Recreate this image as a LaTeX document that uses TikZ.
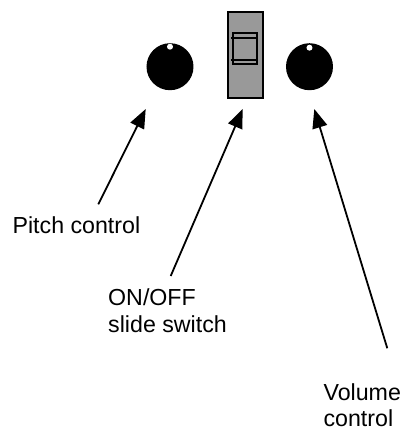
\documentclass[tikz,border=0pt]{standalone}
\usepackage{fontspec}
\setmainfont{Liberation Sans}
\usetikzlibrary{arrows.meta}
\definecolor{switchgrey}{RGB}{153,153,153}

\begin{document}
\begin{tikzpicture}[x=0.5pt, y=-0.5pt, line width=0.9pt,
    every node/.style={align=left, inner sep=0pt, font=\fontsize{11.6}{13.3}\selectfont},
    knob/.style={circle, fill=black, minimum size=23.5pt},
    pointer/.style={-{Triangle[length=9.5pt, width=7.5pt]}}]
    \useasboundingbox (0,0) rectangle (404,430);

    % knobs and switch
    \node[knob] (pitch) at (170,66.7) {};
    \node[knob] (volume) at (309.5,66.7) {};
    \fill[white] (pitch.center) ++(0,-20) circle (3);
    \fill[white] (volume.center) ++(0,-19) circle (3);

    \node[draw, fill=switchgrey, minimum width=17.35pt, minimum height=42.7pt] (switch) at (245.35,55) {};
    \draw (233,33) rectangle (257,64);
    \draw (231,38) -- (257,38);
    \draw (231,60) -- (257,60);

    % labels (base = last line)
    \node[anchor=base west] (pitchlbl) at (11.7,233.3) {Pitch control};
    \node[anchor=base west] (switchlbl) at (107.3,332.3) {ON/OFF\\slide switch};
    \node[anchor=base west] (volumelbl) at (322.7,426.7) {Volume\\control};

    % arrows
    \coordinate (pitchfoot) at (98.3,204.3);
    \coordinate (pitchtip) at (145.7,109);
    \coordinate (switchfoot) at (170.7,276);
    \coordinate (switchtip) at (242.7,109);
    \coordinate (volumefoot) at (387.3,348.3);
    \coordinate (volumetip) at (314.3,109);
    \draw[pointer] (pitchfoot) -- (pitchtip);
    \draw[pointer] (switchfoot) -- (switchtip);
    \draw[pointer] (volumefoot) -- (volumetip);
\end{tikzpicture}
\end{document}
